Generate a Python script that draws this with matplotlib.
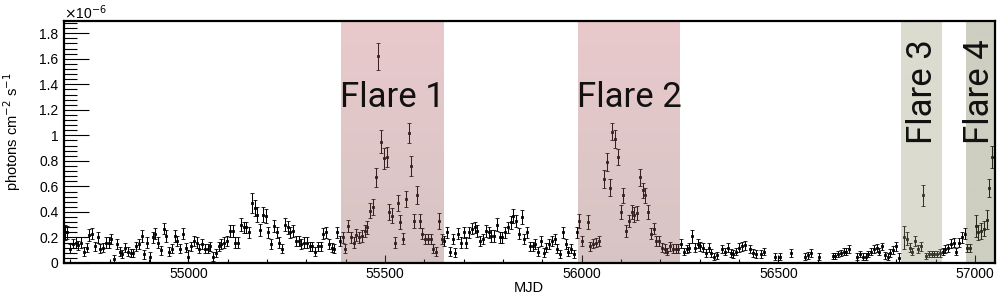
import numpy as np
import matplotlib
matplotlib.use("Agg")
import matplotlib.pyplot as plt
from matplotlib.ticker import MultipleLocator, FuncFormatter

# ---------------- data (flux in units of 1e-6 photons cm^-2 s^-1) ----------------
mjd_first = 54685          # centre of first weekly bin
bin_days = 7

flux_quiet_a = [0.24, 0.24, 0.11, 0.15, 0.16, 0.14, 0.16, 0.09, 0.12, 0.22,
                0.23, 0.13, 0.20, 0.11, 0.12, 0.16, 0.16, 0.19, 0.03, 0.15,
                0.09, 0.07, 0.12, 0.09, 0.08, 0.08, 0.13, 0.15, 0.21, 0.07,
                0.16, 0.05, 0.20, 0.23, 0.16, 0.10, 0.27, 0.21, 0.09, 0.11,
                0.21, 0.17, 0.11, 0.23, 0.12, 0.05, 0.13, 0.17, 0.16, 0.11,
                0.15, 0.11, 0.11, 0.13, 0.05, 0.08, 0.13, 0.15, 0.16, 0.17,
                0.25, 0.25, 0.16, 0.16, 0.30, 0.28, 0.28]
err_quiet_a = [0.06, 0.05, 0.035, 0.035, 0.04, 0.035, 0.04, 0.035, 0.035, 0.045,
               0.045, 0.035, 0.045, 0.035, 0.035, 0.04, 0.04, 0.04, 0.03, 0.04,
               0.035, 0.03, 0.035, 0.035, 0.03, 0.03, 0.035, 0.04, 0.045, 0.035,
               0.04, 0.04, 0.045, 0.045, 0.04, 0.035, 0.045, 0.045, 0.035, 0.035,
               0.045, 0.04, 0.035, 0.045, 0.035, 0.05, 0.035, 0.04, 0.04, 0.035,
               0.04, 0.035, 0.035, 0.035, 0.035, 0.03, 0.035, 0.04, 0.04, 0.04,
               0.05, 0.05, 0.04, 0.04, 0.05, 0.045, 0.045]

flux_quiet_b = [0.24, 0.47, 0.43, 0.38, 0.26, 0.38, 0.37, 0.24, 0.15, 0.29,
                0.24, 0.16, 0.11, 0.30, 0.28, 0.24, 0.25, 0.17, 0.17, 0.15,
                0.16, 0.16, 0.13, 0.13, 0.09, 0.13, 0.13, 0.23, 0.24, 0.15,
                0.12, 0.11, 0.24]
err_quiet_b = [0.045, 0.08, 0.06, 0.055, 0.045, 0.055, 0.055, 0.045, 0.04, 0.05,
               0.045, 0.04, 0.035, 0.05, 0.05, 0.045, 0.045, 0.04, 0.04, 0.04,
               0.04, 0.04, 0.035, 0.035, 0.035, 0.035, 0.035, 0.045, 0.045, 0.04,
               0.035, 0.035, 0.045]

flux_flare_1 = [0.17, 0.20, 0.11, 0.29, 0.20, 0.16, 0.22, 0.20, 0.21, 0.25,
                0.28, 0.41, 0.44, 0.67, 1.62, 0.95, 0.82, 0.83, 0.40, 0.37,
                0.16, 0.47, 0.32, 0.19, 0.50, 1.02, 0.76, 0.33, 0.53, 0.33,
                0.23, 0.19, 0.19, 0.19, 0.11, 0.09, 0.33]
err_flare_1 = [0.04, 0.045, 0.035, 0.05, 0.045, 0.04, 0.045, 0.04, 0.045, 0.045,
               0.05, 0.06, 0.06, 0.075, 0.105, 0.09, 0.08, 0.08, 0.06, 0.06,
               0.045, 0.065, 0.055, 0.045, 0.065, 0.08, 0.075, 0.055, 0.07, 0.055,
               0.045, 0.04, 0.04, 0.04, 0.035, 0.035, 0.06]

flux_quiet_c = [0.19, 0.17, 0.24, 0.09, 0.19, 0.08, 0.23, 0.16, 0.24, 0.16,
                0.24, 0.27, 0.28, 0.25, 0.17, 0.19, 0.25, 0.24, 0.21, 0.21,
                0.30, 0.20, 0.20, 0.24, 0.28, 0.32, 0.37, 0.33, 0.23, 0.36,
                0.19, 0.24, 0.13, 0.13, 0.15, 0.09, 0.17, 0.08, 0.12, 0.15,
                0.17, 0.19, 0.11, 0.07, 0.24, 0.15, 0.09, 0.11, 0.07]
err_quiet_c = [0.04, 0.04, 0.045, 0.035, 0.04, 0.035, 0.045, 0.04, 0.045, 0.04,
               0.045, 0.045, 0.045, 0.045, 0.04, 0.04, 0.045, 0.045, 0.045, 0.045,
               0.05, 0.04, 0.04, 0.045, 0.045, 0.05, 0.055, 0.05, 0.045, 0.055,
               0.04, 0.045, 0.035, 0.035, 0.04, 0.035, 0.04, 0.035, 0.035, 0.04,
               0.04, 0.04, 0.035, 0.03, 0.045, 0.04, 0.035, 0.035, 0.03]

flux_flare_2 = [0.24, 0.33, 0.17, None, 0.32, 0.13, 0.15, 0.16, 0.17, None,
                0.66, 0.79, 0.59, 1.03, 0.97, 0.83, 0.40, 0.53, 0.25, 0.33,
                0.40, 0.38, 0.39, 0.67, 0.57, 0.53, 0.40, 0.23, 0.27, 0.17,
                0.17, 0.12, 0.11, 0.09, 0.13, 0.11, 0.11, 0.11]
err_flare_2 = [0.045, 0.055, 0.04, None, 0.055, 0.035, 0.035, 0.035, 0.04, None,
               0.07, 0.07, 0.065, 0.07, 0.07, 0.065, 0.055, 0.06, 0.045, 0.05,
               0.055, 0.055, 0.055, 0.065, 0.06, 0.06, 0.055, 0.045, 0.045, 0.04,
               0.04, 0.035, 0.035, 0.03, 0.035, 0.035, 0.035, 0.035]

flux_quiet_d = [0.15, 0.09, 0.11, 0.12, 0.21, 0.12, 0.15, 0.13, 0.12, 0.08,
                0.12, 0.08, 0.05, 0.06, None, 0.11, 0.09, 0.12, 0.08, 0.07,
                0.09, 0.12, 0.13, 0.14, None, 0.11, 0.08, 0.07, None, 0.07,
                0.09, None, None, None, 0.05, None, 0.05, None, None, None,
                0.08, None, None, None, None, 0.05, 0.06, 0.08,
                None, None, 0.05, None, None, None, None, 0.055, 0.055, 0.07,
                0.08, 0.09, 0.09, 0.11, None, None,
                0.05, 0.07, 0.05, 0.05, 0.07, 0.09, 0.11, 0.12, 0.09, 0.13,
                0.06, 0.05, 0.08, 0.10, 0.13, 0.04, None]
err_quiet_d = [0.035, 0.03, 0.03, 0.035, 0.05, 0.035, 0.035, 0.035, 0.035, 0.03,
               0.035, 0.03, 0.03, 0.03, None, 0.03, 0.03, 0.035, 0.03, 0.03,
               0.03, 0.035, 0.035, 0.035, None, 0.03, 0.03, 0.03, None, 0.03,
               0.03, None, None, None, 0.03, None, 0.03, None, None, None,
               0.03, None, None, None, None, 0.03, 0.03, 0.03,
               None, None, 0.03, None, None, None, None, 0.025, 0.025, 0.025,
               0.025, 0.03, 0.03, 0.03, None, None,
               0.025, 0.025, 0.025, 0.025, 0.025, 0.03, 0.03, 0.03, 0.03, 0.03,
               0.025, 0.025, 0.03, 0.03, 0.035, 0.04, None]

flux_flare_3 = [0.20, 0.19, 0.12, 0.09, 0.17, 0.11, 0.13, 0.53, 0.055, 0.07,
                0.07, 0.07, 0.07, 0.08]
err_flare_3 = [0.09, 0.05, 0.035, 0.03, 0.04, 0.03, 0.035, 0.08, 0.025, 0.025,
               0.025, 0.025, 0.025, 0.03]

flux_quiet_e = [0.09, 0.11, 0.12, 0.15, 0.16, 0.09, 0.16, 0.20, 0.23]
err_quiet_e = [0.03, 0.03, 0.03, 0.035, 0.035, 0.03, 0.035, 0.04, 0.045]

flux_flare_4 = [0.12, 0.12, None, 0.29, 0.24, 0.25, 0.27, 0.34, 0.59, 0.83]
err_flare_4 = [0.03, 0.03, None, 0.09, 0.06, 0.06, 0.06, 0.075, 0.07, 0.085]

flare_names = ["Flare 1", "Flare 2", "Flare 3", "Flare 4"]
flare_start = [55388, 55991, 56811, 56976]
flare_end = [55648, 56250, 56915, 57060]

x_ticks = [55000, 55500, 56000, 56500, 57000]

# ---------------- assemble ----------------
flux = np.array(flux_quiet_a + flux_quiet_b + flux_flare_1 + flux_quiet_c +
                flux_flare_2 + flux_quiet_d + flux_flare_3 + flux_quiet_e +
                flux_flare_4, dtype=float)
err = np.array(err_quiet_a + err_quiet_b + err_flare_1 + err_quiet_c +
               err_flare_2 + err_quiet_d + err_flare_3 + err_quiet_e +
               err_flare_4, dtype=float)
mjd = mjd_first + bin_days * np.arange(len(flux))

# ---------------- figure ----------------
W, H = 1003, 299
fig = plt.figure(figsize=(W / 100, H / 100), dpi=100)
ax = fig.add_axes([64 / W, 1 - 263 / H, (995 - 64) / W, (263 - 20.5) / H])

xmin, xmax = 54683.5, 57051
ymin, ymax = 0.0, 1.9

ax.errorbar(mjd, flux, yerr=err, fmt="s", ms=1.5, mfc="black", mec="black",
            mew=0.6, ecolor="black", elinewidth=0.75, capsize=1.4,
            capthick=0.75, zorder=2)

# flare bands, drawn on top with transparency (vertical gradient)
band_styles = [
    ((192, 101, 109), (140, 88, 86), 0.35),
    ((192, 101, 109), (140, 88, 86), 0.35),
    ((152, 152, 118), (152, 152, 118), 0.35),
    ((115, 115, 78), (115, 115, 78), 0.35),
]
for (x0, x1), (ctop, cbot, alpha) in zip(zip(flare_start, flare_end), band_styles):
    n = 64
    t = np.linspace(0, 1, n)[:, None]
    top = np.array(ctop) / 255.0
    bot = np.array(cbot) / 255.0
    rgb = top[None, :] * (1 - t) + bot[None, :] * t
    rgba = np.concatenate([rgb, np.full((n, 1), alpha)], axis=1)[:, None, :]
    ax.imshow(rgba, extent=[x0, min(x1, xmax), ymin, ymax], aspect="auto",
              origin="upper", interpolation="bilinear", zorder=3)

label_font = dict(family=["Roboto", "DejaVu Sans"], weight="normal",
                  fontsize=25, color="#111111", zorder=4)
ax.text(55518, 1.30, flare_names[0], ha="center", va="center", **label_font)
ax.text(56120, 1.30, flare_names[1], ha="center", va="center", **label_font)
ax.text(56866, 1.34, flare_names[2], ha="center", va="center", rotation=90,
        **label_font)
ax.text(57012, 1.34, flare_names[3], ha="center", va="center", rotation=90,
        **label_font)

ax.set_xlim(xmin, xmax)
ax.set_ylim(ymin, ymax)

tick_font = "Liberation Sans"
ax.set_xticks(x_ticks)
ax.xaxis.set_minor_locator(MultipleLocator(100))
ax.yaxis.set_major_locator(MultipleLocator(0.2))
ax.yaxis.set_minor_locator(MultipleLocator(0.04))
ax.yaxis.set_major_formatter(FuncFormatter(lambda v, p: "%g" % round(v, 2)))

ax.tick_params(axis="x", which="major", direction="in", length=6, width=0.8,
               top=False, bottom=True, pad=3, labelsize=10)
ax.tick_params(axis="x", which="minor", direction="in", length=3, width=0.8,
               top=False, bottom=True)
ax.tick_params(axis="y", which="major", direction="in", length=18, width=0.8,
               left=True, right=False, pad=4, labelsize=10)
ax.tick_params(axis="y", which="minor", direction="in", length=9, width=0.8,
               left=True, right=False)
for lab in ax.get_xticklabels() + ax.get_yticklabels():
    lab.set_fontfamily(tick_font)

for s in ax.spines.values():
    s.set_linewidth(1.6)
    s.set_color("black")
    s.set_zorder(5)

fig.text(64 / W, 1 - 19.5 / H, r"$\times$10$^{-6}$", ha="left", va="baseline",
         fontsize=10, family=tick_font)
fig.text(12 / W, 1 - 132 / H, r"photons cm$^{-2}$ s$^{-1}$", rotation=90,
         ha="center", va="center", fontsize=10.5, family=tick_font)
fig.text(529 / W, 1 - 288 / H, "MJD", ha="center", va="center", fontsize=10.5,
         family=tick_font)

fig.savefig("out.png", dpi=100)
